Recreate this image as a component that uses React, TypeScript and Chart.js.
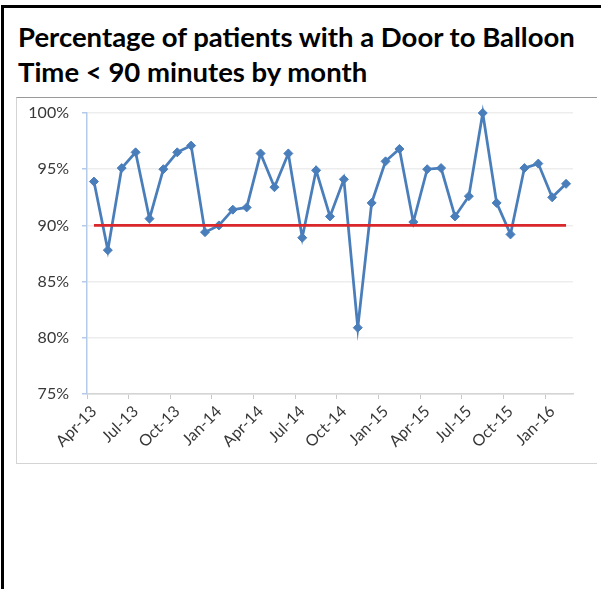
import React, { useEffect, useRef } from "react";
import { Chart, registerables } from "chart.js";

Chart.register(...registerables);

// Monthly labels, Apr-13 through Feb-16
const months: string[] = [
  "Apr-13", "May-13", "Jun-13", "Jul-13", "Aug-13", "Sep-13", "Oct-13", "Nov-13", "Dec-13",
  "Jan-14", "Feb-14", "Mar-14", "Apr-14", "May-14", "Jun-14", "Jul-14", "Aug-14", "Sep-14",
  "Oct-14", "Nov-14", "Dec-14", "Jan-15", "Feb-15", "Mar-15", "Apr-15", "May-15", "Jun-15",
  "Jul-15", "Aug-15", "Sep-15", "Oct-15", "Nov-15", "Dec-15", "Jan-16", "Feb-16",
];

// Percentage of patients with door-to-balloon time under 90 minutes
const pctUnder90: number[] = [
  93.9, 87.8, 95.1, 96.5, 90.6, 95.0, 96.5, 97.1, 89.4,
  90.0, 91.4, 91.6, 96.4, 93.4, 96.4, 88.9, 94.9, 90.8,
  94.1, 80.9, 92.0, 95.7, 96.8, 90.3, 95.0, 95.1, 90.8,
  92.6, 100.0, 92.0, 89.2, 95.1, 95.5, 92.5, 93.7,
];

// Target level
const target: number[] = months.map(() => 90);

const yTicks = { min: 75, max: 100, step: 5 };

const FONT = "Lato, 'Liberation Sans', sans-serif";

export default function App() {
  const canvasRef = useRef<HTMLCanvasElement | null>(null);

  useEffect(() => {
    document.body.style.margin = "0";
    const canvas = canvasRef.current;
    if (!canvas) return;
    const chart = new Chart(canvas, {
      type: "line",
      data: {
        labels: months,
        datasets: [
          {
            label: "Target",
            data: target,
            borderColor: "#d9272b",
            borderWidth: 2.75,
            pointRadius: 0,
            tension: 0,
          },
          {
            label: "% < 90 min",
            data: pctUnder90,
            borderColor: "#4a7ebb",
            backgroundColor: "#4a7ebb",
            borderWidth: 2.75,
            pointStyle: "rectRot",
            pointRadius: 4.5,
            pointBorderWidth: 1,
            tension: 0,
            clip: false,
          },
        ],
      },
      options: {
        animation: false,
        responsive: false,
        maintainAspectRatio: false,
        layout: { padding: { top: 15, right: 24, left: 0, bottom: 0 } },
        plugins: {
          legend: { display: false },
          tooltip: { enabled: false },
          title: { display: false },
        },
        scales: {
          x: {
            type: "category",
            offset: true,
            grid: {
              offset: true,
              drawOnChartArea: false,
              drawTicks: true,
              tickLength: 5,
              color: (ctx: any) =>
                typeof ctx.index === "number" && ctx.index % 3 === 0 ? "#c9c9c9" : "rgba(0,0,0,0)",
            },
            border: { color: "#d4d4d4", width: 1.5 },
            ticks: {
              autoSkip: false,
              minRotation: 45,
              maxRotation: 45,
              padding: 3,
              color: "#383838",
              font: { family: FONT, size: 16 },
              callback: (_v: any, i: number) => (i % 3 === 0 ? months[i] : ""),
            },
            afterFit: (scale: any) => {
              scale.height = 69;
            },
          },
          y: {
            min: yTicks.min,
            max: yTicks.max,
            grid: {
              color: "#ededed",
              lineWidth: 1.5,
              tickLength: 5,
              tickColor: "#b3cbe9",
            },
            border: { color: "#b3cbe9", width: 1.5 },
            ticks: {
              stepSize: yTicks.step,
              padding: 13,
              color: "#383838",
              font: { family: FONT, size: 16 },
              callback: (v: any) => `${v}%`,
            },
            afterFit: (scale: any) => {
              scale.width = 70;
              scale.paddingTop = 0;
              scale.paddingBottom = 0;
            },
          },
        },
      },
    });
    return () => chart.destroy();
  }, []);

  return (
    <div style={{ position: "fixed", left: 0, top: 0, width: 601, height: 589, background: "#fff", overflow: "hidden" }}>
      <div
        style={{
          position: "absolute",
          left: 1,
          top: 5,
          width: 640,
          height: 640,
          borderLeft: "3px solid #000",
          borderTop: "3px solid #000",
        }}
      />
      <div
        style={{
          position: "absolute",
          left: 18,
          top: 19,
          fontFamily: FONT,
          fontWeight: 700,
          fontSize: 27.5,
          lineHeight: "35px",
          color: "#000",
          whiteSpace: "nowrap",
        }}
      >
        <div>Percentage of patients with a Door to Balloon</div>
        <div>Time &lt; 90 minutes by month</div>
      </div>
      <div
        style={{
          position: "absolute",
          left: 16,
          top: 97,
          width: 580,
          height: 365,
          borderTop: "1px solid #9a9a9a",
          borderLeft: "1px solid #d4d4d4",
          borderBottom: "1px solid #d4d4d4",
        }}
      >
        <canvas ref={canvasRef} width={580} height={365} style={{ display: "block" }} />
      </div>
    </div>
  );
}
